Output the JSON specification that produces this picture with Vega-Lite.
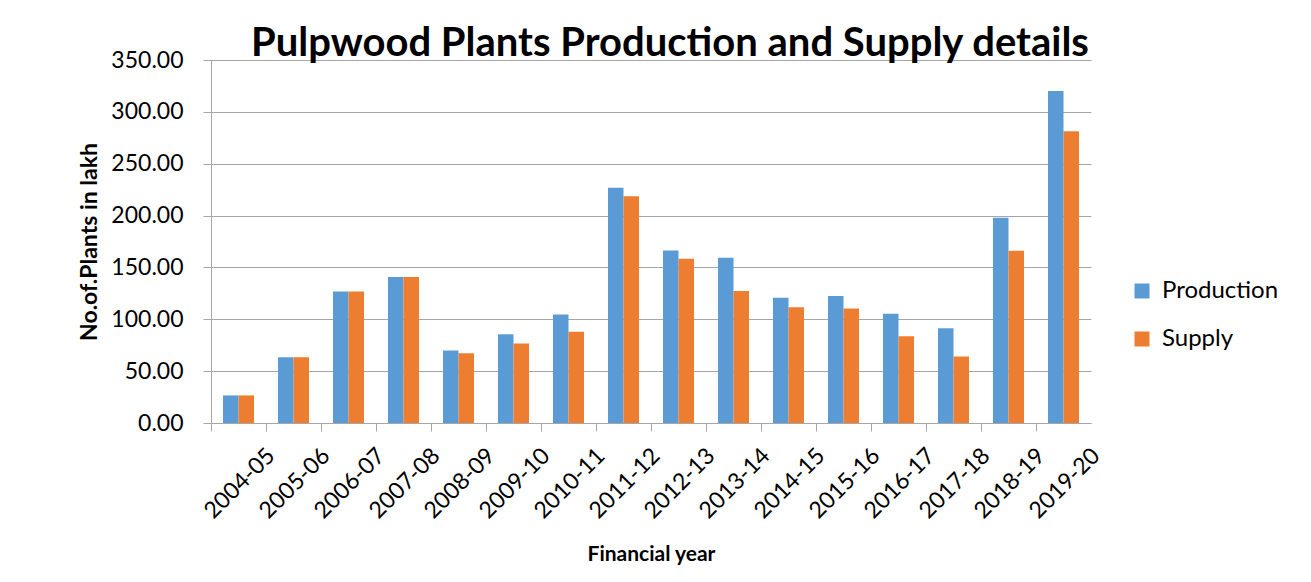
{
  "$schema": "https://vega.github.io/schema/vega-lite/v6.json",
  "autosize": "none",
  "width": 880,
  "height": 363,
  "padding": {"left": 211, "top": 60, "right": 220, "bottom": 159},
  "background": "white",
  "title": {
    "text": "Pulpwood Plants Production and Supply details",
    "font": "Lato",
    "fontSize": 40,
    "fontWeight": "bold",
    "color": "#000000",
    "anchor": "middle",
    "frame": "group",
    "dx": 19,
    "baseline": "alphabetic",
    "offset": -47
  },
  "data": {
    "values": [
      {"year": "2004-05", "series": "Production", "value": 26.6},
      {"year": "2004-05", "series": "Supply", "value": 26.6},
      {"year": "2005-06", "series": "Production", "value": 63.5},
      {"year": "2005-06", "series": "Supply", "value": 63.5},
      {"year": "2006-07", "series": "Production", "value": 126.9},
      {"year": "2006-07", "series": "Supply", "value": 126.9},
      {"year": "2007-08", "series": "Production", "value": 140.7},
      {"year": "2007-08", "series": "Supply", "value": 140.7},
      {"year": "2008-09", "series": "Production", "value": 69.9},
      {"year": "2008-09", "series": "Supply", "value": 67.3},
      {"year": "2009-10", "series": "Production", "value": 85.6},
      {"year": "2009-10", "series": "Supply", "value": 76.6},
      {"year": "2010-11", "series": "Production", "value": 104.5},
      {"year": "2010-11", "series": "Supply", "value": 88.1},
      {"year": "2011-12", "series": "Production", "value": 226.9},
      {"year": "2011-12", "series": "Supply", "value": 218.6},
      {"year": "2012-13", "series": "Production", "value": 166.3},
      {"year": "2012-13", "series": "Supply", "value": 158.3},
      {"year": "2013-14", "series": "Production", "value": 159.3},
      {"year": "2013-14", "series": "Supply", "value": 127.2},
      {"year": "2014-15", "series": "Production", "value": 120.8},
      {"year": "2014-15", "series": "Supply", "value": 111.5},
      {"year": "2015-16", "series": "Production", "value": 122.4},
      {"year": "2015-16", "series": "Supply", "value": 110.3},
      {"year": "2016-17", "series": "Production", "value": 105.4},
      {"year": "2016-17", "series": "Supply", "value": 83.7},
      {"year": "2017-18", "series": "Production", "value": 91.3},
      {"year": "2017-18", "series": "Supply", "value": 64.1},
      {"year": "2018-19", "series": "Production", "value": 197.8},
      {"year": "2018-19", "series": "Supply", "value": 166.0},
      {"year": "2019-20", "series": "Production", "value": 320.2},
      {"year": "2019-20", "series": "Supply", "value": 281.4}
    ]
  },
  "mark": {"type": "bar"},
  "encoding": {
    "x": {
      "field": "year",
      "type": "nominal",
      "sort": null,
      "scale": {"paddingInner": 0, "paddingOuter": 0},
      "axis": {
        "title": "Financial year",
        "titleFont": "Lato",
        "titleFontSize": 21,
        "titleFontWeight": "bold",
        "titleColor": "#000000",
        "titlePadding": 21,
        "labelFont": "Lato",
        "labelFontSize": 23,
        "labelColor": "#000000",
        "labelAngle": -45,
        "labelOffset": 25,
        "bandPosition": 0,
        "tickSize": 8,
        "tickColor": "#a6a6a6",
        "domainColor": "#a6a6a6",
        "labelPadding": 13
      }
    },
    "xOffset": {
      "field": "series",
      "type": "nominal",
      "sort": ["Production", "Supply"],
      "scale": {"paddingInner": 0, "paddingOuter": 0.774}
    },
    "y": {
      "field": "value",
      "type": "quantitative",
      "scale": {"domain": [0, 350], "nice": false},
      "axis": {
        "title": "No.of.Plants in lakh",
        "titleFont": "Lato",
        "titleFontSize": 23,
        "titleFontWeight": "bold",
        "titleColor": "#000000",
        "titlePadding": 9,
        "values": [0, 50, 100, 150, 200, 250, 300, 350],
        "format": ".2f",
        "labelFont": "Lato",
        "labelFontSize": 23,
        "labelColor": "#000000",
        "labelPadding": 20,
        "tickSize": 8,
        "tickColor": "#a6a6a6",
        "domainColor": "#a6a6a6",
        "grid": true,
        "gridColor": "#a6a6a6",
        "gridWidth": 1.2
      }
    },
    "color": {
      "field": "series",
      "type": "nominal",
      "sort": ["Production", "Supply"],
      "scale": {"range": ["#5B9BD5", "#ED7D31"]},
      "legend": {
        "title": null,
        "orient": "none",
        "legendX": 919,
        "legendY": 219,
        "symbolType": "square",
        "symbolSize": 225,
        "symbolStrokeWidth": 0,
        "labelFont": "Lato",
        "labelFontSize": 24,
        "labelColor": "#000000",
        "rowPadding": 24,
        "labelOffset": 8
      }
    }
  },
  "config": {
    "view": {"stroke": null}
  }
}
